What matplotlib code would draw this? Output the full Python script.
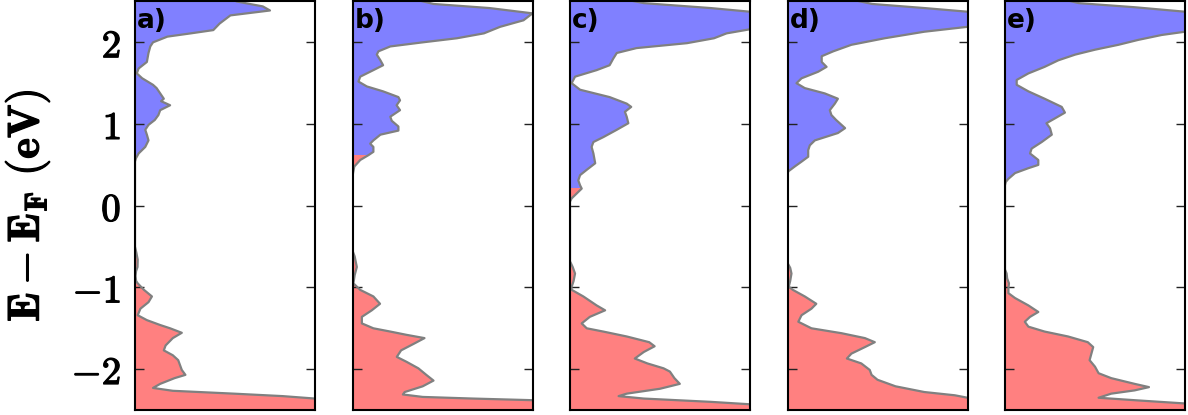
import numpy as np
import matplotlib
matplotlib.use("Agg")
import matplotlib.pyplot as plt
from matplotlib.patches import Rectangle
import matplotlib.patheffects as pe

plt.rcParams['mathtext.fontset'] = 'cm'

panel_labels = ['a)', 'b)', 'c)', 'd)', 'e)']
split_levels = [0.0, 0.62, 0.22, 0.0, 0.0]

# Energies (eV) and DOS (arbitrary units, panel width = 1), top to bottom
E_a = [2.55, 2.5, 2.44, 2.39, 2.33, 2.23, 2.15, 2.11, 2.07, 2.0, 1.95, 1.87, 1.76, 1.68, 1.62, 1.56,
       1.48, 1.44, 1.31, 1.28, 1.23, 1.17, 1.11, 1.05, 0.99, 0.93, 0.87, 0.80, 0.72, 0.64, 0.58, 0.54,
       -0.50, -0.58, -0.66, -0.75, -0.80, -0.86, -0.92, -0.95, -1.03, -1.11, -1.18, -1.26, -1.34,
       -1.40, -1.46, -1.50, -1.555, -1.62, -1.71, -1.77, -1.83, -1.89, -1.95, -2.01, -2.07, -2.11,
       -2.18, -2.23, -2.265, -2.30, -2.33, -2.36, -2.40, -2.55]
D_a = [0.52, 0.565, 0.71, 0.75, 0.53, 0.47, 0.435, 0.31, 0.18, 0.10, 0.085, 0.075, 0.066, 0.02, 0.01, 0.04,
       0.10, 0.12, 0.16, 0.145, 0.195, 0.14, 0.13, 0.11, 0.075, 0.057, 0.066, 0.075, 0.057, 0.02, 0.005, 0.0,
       0.0, 0.008, 0.015, 0.014, 0.006, 0.003, 0.006, 0.015, 0.05, 0.094, 0.075, 0.03, 0.015,
       0.066, 0.14, 0.195, 0.26, 0.21, 0.17, 0.16, 0.21, 0.24, 0.25, 0.26, 0.28, 0.22,
       0.14, 0.10, 0.21, 0.55, 0.82, 1.0, 1.2, 1.3]

E_b = [2.55, 2.47, 2.42, 2.355, 2.27, 2.19, 2.11, 2.05, 2.0, 1.95, 1.89, 1.85, 1.78, 1.72, 1.66, 1.58,
       1.52, 1.46, 1.40, 1.33, 1.29, 1.23, 1.17, 1.09, 1.04, 0.97, 0.92, 0.87, 0.80, 0.76, 0.72, 0.66,
       0.62, 0.56, 0.48, 0.40, 0.34,
       -0.55, -0.62, -0.75, -0.85, -0.95, -1.03, -1.11, -1.20, -1.28, -1.36, -1.44, -1.50, -1.54,
       -1.58, -1.62, -1.69, -1.77, -1.85, -1.91, -1.99, -2.07, -2.14, -2.21, -2.28, -2.31, -2.34,
       -2.36, -2.38, -2.42, -2.55]
D_b = [0.30, 0.45, 0.76, 1.0, 0.95, 0.82, 0.73, 0.58, 0.39, 0.21, 0.144, 0.135, 0.155, 0.17, 0.116, 0.043,
       0.033, 0.08, 0.17, 0.255, 0.264, 0.245, 0.264, 0.21, 0.218, 0.255, 0.255, 0.155, 0.116, 0.098, 0.116, 0.116,
       0.089, 0.043, 0.01, 0.003, 0.0,
       0.0, 0.012, 0.024, 0.012, 0.005, 0.043, 0.116, 0.153, 0.107, 0.052, 0.052, 0.116, 0.21,
       0.30, 0.40, 0.34, 0.27, 0.246, 0.30, 0.366, 0.41, 0.45, 0.39, 0.29, 0.28, 0.39,
       0.67, 1.0, 1.2, 1.3]

E_c = [2.55, 2.48, 2.42, 2.375, 2.32, 2.25, 2.16, 2.11, 2.05, 1.99, 1.93, 1.87, 1.80, 1.72, 1.66, 1.58,
       1.50, 1.42, 1.33, 1.25, 1.21, 1.15, 1.09, 1.01, 0.93, 0.84, 0.78, 0.72, 0.64, 0.52, 0.44, 0.375,
       0.31, 0.25, 0.21, 0.15, 0.09, 0.05,
       -0.68, -0.75, -0.83, -0.92, -1.0, -1.03, -1.11, -1.22, -1.28, -1.36, -1.44, -1.50, -1.54, -1.60,
       -1.67, -1.72, -1.79, -1.87, -1.93, -1.99, -2.03, -2.11, -2.18, -2.24, -2.30, -2.33, -2.36,
       -2.40, -2.43, -2.46, -2.55]
D_c = [0.25, 0.41, 0.78, 1.0, 1.1, 1.08, 1.0, 0.87, 0.80, 0.65, 0.37, 0.26, 0.24, 0.22, 0.148, 0.028,
       0.009, 0.056, 0.22, 0.315, 0.34, 0.305, 0.315, 0.324, 0.26, 0.185, 0.13, 0.12, 0.13, 0.14, 0.093, 0.056,
       0.046, 0.056, 0.065, 0.037, 0.009, 0.0,
       0.0, 0.015, 0.028, 0.02, 0.008, 0.01, 0.074, 0.148, 0.195, 0.11, 0.065, 0.093, 0.185, 0.315,
       0.44, 0.47, 0.41, 0.36, 0.43, 0.52, 0.555, 0.58, 0.61, 0.50, 0.315, 0.27, 0.41,
       0.78, 1.0, 1.2, 1.3]

E_d = [2.55, 2.47, 2.42, 2.375, 2.30, 2.19, 2.13, 2.05, 1.97, 1.89, 1.83, 1.76, 1.70, 1.64, 1.56, 1.50,
       1.44, 1.375, 1.31, 1.25, 1.17, 1.11, 1.05, 0.95, 0.89, 0.80, 0.74, 0.68, 0.60, 0.54, 0.48, 0.42,
       0.38,
       -0.70, -0.76, -0.83, -0.92, -0.99, -1.03, -1.11, -1.20, -1.26, -1.34, -1.42, -1.50, -1.56, -1.62,
       -1.67, -1.73, -1.81, -1.87, -1.93, -2.01, -2.07, -2.13, -2.21, -2.28, -2.32, -2.35, -2.40, -2.55]
D_d = [0.30, 0.47, 0.76, 1.0, 1.08, 1.0, 0.76, 0.54, 0.355, 0.254, 0.19, 0.19, 0.217, 0.17, 0.078, 0.05,
       0.096, 0.207, 0.28, 0.263, 0.235, 0.244, 0.27, 0.32, 0.28, 0.152, 0.124, 0.115, 0.115, 0.078, 0.04, 0.004,
       0.0,
       0.0, 0.015, 0.022, 0.015, 0.007, 0.03, 0.096, 0.16, 0.133, 0.078, 0.06, 0.133, 0.30, 0.43,
       0.485, 0.43, 0.355, 0.33, 0.41, 0.457, 0.467, 0.50, 0.60, 0.76, 0.93, 1.0, 1.2, 1.3]

E_e = [2.55, 2.48, 2.43, 2.375, 2.28, 2.13, 2.09, 2.03, 1.97, 1.91, 1.85, 1.78, 1.70, 1.62, 1.54, 1.48,
       1.40, 1.31, 1.21, 1.14, 1.07, 1.01, 0.95, 0.87, 0.78, 0.70, 0.64, 0.56, 0.50, 0.46, 0.40, 0.33,
       0.29, 0.25,
       -0.78, -0.83, -0.89, -0.95, -1.01, -1.07, -1.13, -1.22, -1.30, -1.36, -1.42, -1.48, -1.54, -1.60,
       -1.67, -1.73, -1.81, -1.89, -1.97, -2.05, -2.11, -2.18, -2.22, -2.26, -2.30, -2.35, -2.38, -2.42,
       -2.46, -2.55]
D_e = [0.28, 0.41, 0.72, 1.0, 1.1, 1.0, 0.87, 0.74, 0.63, 0.50, 0.39, 0.296, 0.22, 0.13, 0.065, 0.065,
       0.13, 0.22, 0.315, 0.333, 0.278, 0.23, 0.25, 0.26, 0.204, 0.148, 0.139, 0.185, 0.185, 0.13, 0.056, 0.019,
       0.004, 0.0,
       0.0, 0.009, 0.012, 0.022, 0.019, 0.019, 0.056, 0.13, 0.185, 0.139, 0.11, 0.13, 0.22, 0.35,
       0.46, 0.49, 0.48, 0.47, 0.50, 0.52, 0.59, 0.72, 0.80, 0.72, 0.59, 0.52, 0.72, 1.0,
       1.2, 1.3]

energies = [E_a, E_b, E_c, E_d, E_e]
dos = [D_a, D_b, D_c, D_d, D_e]

yticks = [-2, -1, 0, 1, 2]
xlim = (0, 1)
ylim = (-2.5, 2.5)

blue = '#8080ff'
red = '#ff8080'
edge = '#808080'

W, H = 1188, 415
fig = plt.figure(figsize=(W / 100, H / 100), dpi=100)

left0 = 135 / W
pitch = 217.5 / W
width = 180 / W
bottom = 5 / H
height = 408.5 / H

heavy = [pe.withStroke(linewidth=0.9, foreground='black')]

for i in range(5):
    ax = fig.add_axes([left0 + i * pitch, bottom, width, height])
    E = np.array(energies[i])
    D = np.array(dos[i])
    s = split_levels[i]
    fb = ax.fill_betweenx(E, 0, D, color=blue, lw=0, zorder=1)
    fr = ax.fill_betweenx(E, 0, D, color=red, lw=0, zorder=1)
    fb.set_clip_path(Rectangle((xlim[0], s), xlim[1] - xlim[0], ylim[1] - s,
                               transform=ax.transData))
    fr.set_clip_path(Rectangle((xlim[0], ylim[0]), xlim[1] - xlim[0], s - ylim[0],
                               transform=ax.transData))
    ax.plot(D, E, color=edge, lw=1.6, zorder=2, solid_joinstyle='round')
    ax.set_xlim(*xlim)
    ax.set_ylim(*ylim)
    ax.set_xticks([])
    ax.set_yticks(yticks)
    ax.tick_params(axis='y', direction='in', left=True, right=True, length=6.5,
                   width=1.0, color='#222222', pad=10)
    if i == 0:
        labs = ax.set_yticklabels([r'$\mathbf{%d}$' % t if t >= 0 else r'$\mathbf{-%d}$' % (-t)
                                   for t in yticks], fontsize=28)
        for t in labs:
            t.set_path_effects(heavy)
        yl = ax.set_ylabel(r'$\mathbf{E-E_F\ (eV)}$', fontsize=32)
        yl.set_path_effects(heavy)
        ax.yaxis.set_label_coords(-0.46, 0.5)
    else:
        ax.set_yticklabels([])
    for sp in ax.spines.values():
        sp.set_linewidth(1.5)
        sp.set_color('black')
        sp.set_zorder(5)
    ax.text(0.012, 0.985, panel_labels[i], transform=ax.transAxes, ha='left', va='top',
            fontsize=19, fontweight='bold', family='DejaVu Sans', zorder=6)

fig.savefig('out.png', dpi=100)
